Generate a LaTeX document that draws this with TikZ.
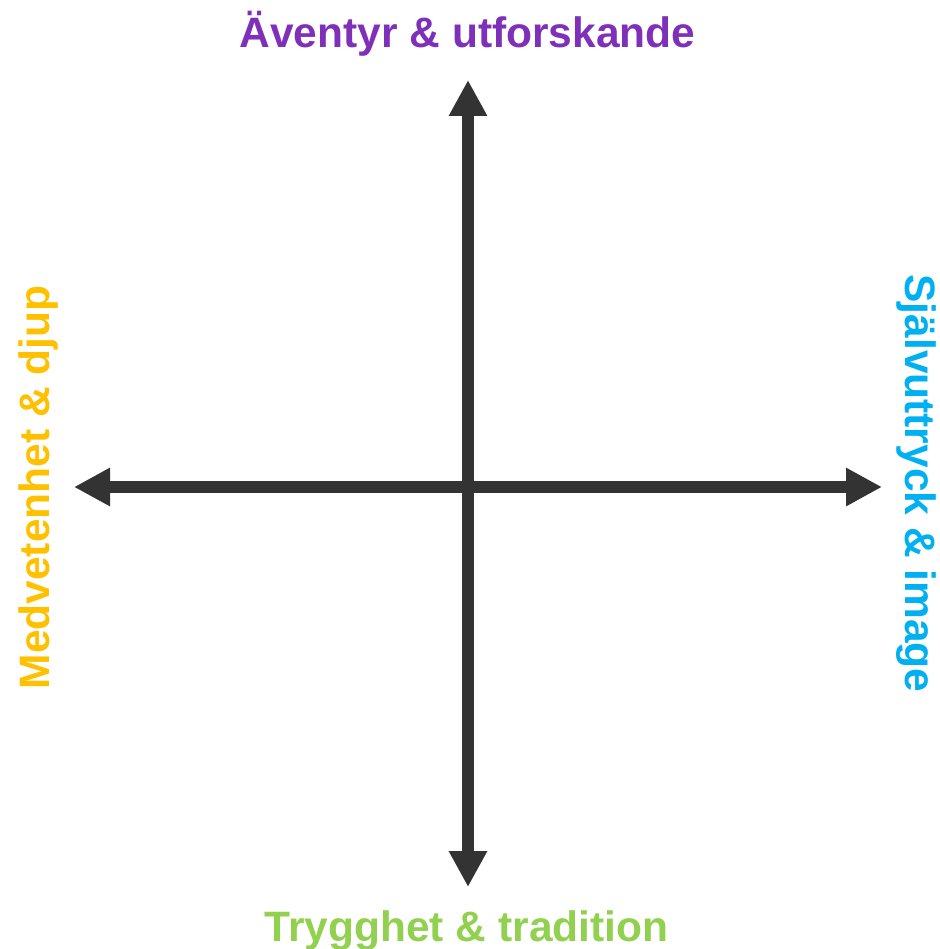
\documentclass[tikz,border=0pt]{standalone}
\usepackage{fontspec}
\setmainfont{Liberation Sans}
\usetikzlibrary{arrows.meta}
\definecolor{axisgray}{HTML}{333333}
\definecolor{advpurple}{HTML}{7F30B9}
\definecolor{safegreen}{HTML}{92D050}
\definecolor{deepgold}{HTML}{FFC000}
\definecolor{expblue}{HTML}{00B0F0}
\begin{document}
\begin{tikzpicture}[x=1pt,y=-1pt,
  axis/.style={draw=axisgray,line width=12pt,
    {Triangle[length=36pt,width=36pt,fill=axisgray]}-{Triangle[length=36pt,width=36pt,fill=axisgray]}},
  pole/.style={font=\fontsize{42.5}{50}\selectfont\bfseries,inner sep=0pt,anchor=base}]
  \useasboundingbox (0,0) rectangle (939,949);
  % axis end points
  \coordinate (top) at (468,80);
  \coordinate (bottom) at (468,887);
  \coordinate (left) at (74,487);
  \coordinate (right) at (882,487);
  \draw[axis] (bottom) -- (top);
  \draw[axis] (left) -- (right);
  % pole labels
  \node[pole,text=advpurple] (adv) at (467.5,48) {Äventyr \& utforskande};
  \node[pole,text=safegreen] (safe) at (466.5,941) {Trygghet \& tradition};
  \node[pole,text=deepgold,rotate=90] (deep) at (49,487.5) {Medvetenhet \& djup};
  \node[pole,text=expblue,rotate=-90] (exp) at (905,483.5) {Självuttryck \& image};
\end{tikzpicture}
\end{document}
